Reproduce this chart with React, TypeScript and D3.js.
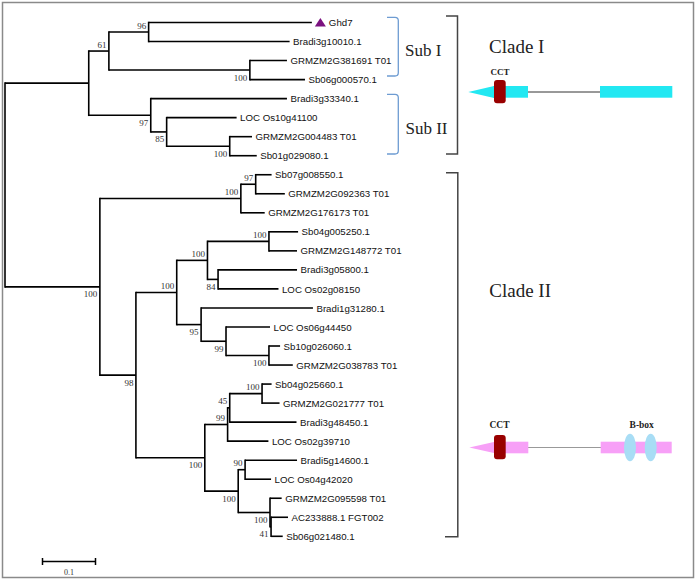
import React from "react";
import * as d3 from "d3";

// ---- Tree data (parallel arrays) ----
const nodeIds = [
  "root",
  "cladeI", "subI", "n96", "Ghd7", "Bradi3g10010.1", "n100a", "GRMZM2G381691 T01", "Sb06g000570.1",
  "subII", "Bradi3g33340.1", "n85", "LOC Os10g41100", "n100b", "GRMZM2G004483 T01", "Sb01g029080.1",
  "cladeII", "n100c", "n97", "Sb07g008550.1", "GRMZM2G092363 T01", "GRMZM2G176173 T01",
  "n98", "n100d", "n100e", "n100f", "Sb04g005250.1", "GRMZM2G148772 T01", "n84", "Bradi3g05800.1", "LOC Os02g08150",
  "n95", "Bradi1g31280.1", "n99a", "LOC Os06g44450", "n100g", "Sb10g026060.1", "GRMZM2G038783 T01",
  "n100h", "n99b", "n45", "n100i", "Sb04g025660.1", "GRMZM2G021777 T01", "Bradi3g48450.1", "LOC Os02g39710",
  "n100j", "n90", "Bradi5g14600.1", "LOC Os04g42020", "n100k", "GRMZM2G095598 T01", "n41", "AC233888.1 FGT002", "Sb06g021480.1",
];
const parentIds = [
  "",
  "root", "cladeI", "subI", "n96", "n96", "subI", "n100a", "n100a",
  "cladeI", "subII", "subII", "n85", "n85", "n100b", "n100b",
  "root", "cladeII", "n100c", "n97", "n97", "n100c",
  "cladeII", "n98", "n100d", "n100e", "n100f", "n100f", "n100e", "n84", "n84",
  "n100d", "n95", "n95", "n99a", "n99a", "n100g", "n100g",
  "n98", "n100h", "n99b", "n45", "n100i", "n100i", "n45", "n99b",
  "n100h", "n100j", "n90", "n90", "n100j", "n100k", "n100k", "n41", "n41",
];
const branchLengths = [
  0,
  0.158, 0.038, 0.075, 0.308, 0.266, 0.266, 0.070, 0.104,
  0.117, 0.257, 0.030, 0.132, 0.119, 0.042, 0.051,
  0.179, 0.266, 0.028, 0.030, 0.055, 0.045,
  0.068, 0.077, 0.058, 0.116, 0.055, 0.053, 0.020, 0.149, 0.114,
  0.046, 0.211, 0.047, 0.083, 0.081, 0.021, 0.045,
  0.130, 0.043, 0.004, 0.061, 0.018, 0.033, 0.126, 0.077,
  0.063, 0.013, 0.098, 0.049, 0.060, 0.022, 0.002, 0.032, 0.022,
];
const bootstraps: (number | null)[] = [
  null,
  null, 61, 96, null, null, 100, null, null,
  97, null, 85, null, 100, null, null,
  100, 100, 97, null, null, null,
  98, 100, 100, 100, null, null, 84, null, null,
  95, null, 99, null, 100, null, null,
  100, 99, 45, 100, null, null, null, null,
  100, 90, null, null, 100, null, 41, null, null,
];
const highlightedGene = "Ghd7";
const scaleBarValue = 0.1;

const subGroups = ["Sub I", "Sub II"];
const cladeNames = ["Clade I", "Clade II"];

const W = 697;
const H = 581;

export default function App() {
  const rows = nodeIds.map((id, i) => ({
    id,
    parent: parentIds[i] || null,
    len: branchLengths[i],
    bs: bootstraps[i],
  }));
  const root = d3
    .stratify<(typeof rows)[number]>()
    .id((d) => d.id)
    .parentId((d) => d.parent)(rows);

  const x = d3.scaleLinear().domain([0, 1]).range([5, 535]);
  const leaves = root.leaves();
  const y = d3.scaleLinear().domain([0, leaves.length - 1]).range([22.5, 536.3]);

  const depth = new Map<string, number>();
  const ypos = new Map<string, number>();
  root.eachBefore((n) => {
    depth.set(n.id!, n.parent ? depth.get(n.parent.id!)! + n.data.len : 0);
  });
  leaves.forEach((l, i) => ypos.set(l.id!, y(i)));
  root.eachAfter((n) => {
    if (n.children) {
      const ys = n.children.map((c) => ypos.get(c.id!)!);
      ypos.set(n.id!, (ys[0] + ys[ys.length - 1]) / 2);
    }
  });
  const X = (n: any) => x(depth.get(n.id)!);
  const Y = (n: any) => ypos.get(n.id)!;

  const lines: JSX.Element[] = [];
  const labels: JSX.Element[] = [];
  root.each((n) => {
    if (n.parent) {
      lines.push(
        <line key={"h" + n.id} x1={X(n.parent)} x2={X(n)} y1={Y(n)} y2={Y(n)} />
      );
    }
    if (n.children) {
      const ys = n.children.map((c) => Y(c));
      lines.push(
        <line key={"v" + n.id} x1={X(n)} x2={X(n)} y1={Math.min(...ys) - 0.8} y2={Math.max(...ys) + 0.8} />
      );
    }
    if (n.data.bs != null && n.parent) {
      const upper = Y(n) < Y(n.parent);
      labels.push(
        <text
          key={"b" + n.id}
          x={X(n) - 2.5}
          y={upper ? Y(n) - 3.5 : Y(n) + 10.5}
          textAnchor="end"
        >
          {n.data.bs}
        </text>
      );
    }
  });

  const leafTexts = leaves.map((l) => {
    const isH = l.id === highlightedGene;
    const lx = X(l);
    const ly = Y(l);
    return (
      <g key={"l" + l.id}>
        {isH && (
          <path
            d={`M${lx + 3},${ly + 4} L${lx + 8.5},${ly - 4.5} L${lx + 14},${ly + 4} Z`}
            fill="#7B1280"
          />
        )}
        <text x={lx + (isH ? 17 : 3.5)} y={ly + 3.6}>
          {l.id}
        </text>
      </g>
    );
  });

  const sb0 = x(0);
  const sbLen = x(scaleBarValue) - x(0);
  const sbX = 42.5;

  const serif = "'Liberation Serif', 'Times New Roman', serif";

  return (
    <svg
      width={W}
      height={H}
      style={{ position: "absolute", left: 0, top: 0, background: "#fff" }}
    >
      <rect x={2.5} y={2.5} width={691} height={575} fill="#fff" stroke="#8a8a8a" strokeWidth={1.5} />
      <g stroke="#000" strokeWidth={1.6} strokeLinecap="butt">
        {lines}
      </g>
      <g fontFamily={serif} fontSize={9} fill="#333">
        {labels}
      </g>
      <g fontFamily="'Liberation Sans', Arial, sans-serif" fontSize={9.7} fill="#111">
        {leafTexts}
      </g>

      {/* scale bar */}
      <g stroke="#000" strokeWidth={1.5}>
        <line x1={sbX} x2={sbX + sbLen} y1={561.5} y2={561.5} />
        <line x1={sbX} x2={sbX} y1={558} y2={565} />
        <line x1={sbX + sbLen} x2={sbX + sbLen} y1={558} y2={565} />
      </g>
      <text x={sbX + sbLen / 2} y={575} textAnchor="middle" fontFamily={serif} fontSize={8} fill="#333">
        {scaleBarValue}
      </text>
      {sb0 < 0 ? null : null}

      {/* sub-group brackets */}
      <g fill="none" stroke="#6E9CD2" strokeWidth={1.3}>
        <path d="M387,17.3 L395,17.3 Q398.3,17.3 398.3,20.5 L398.3,72.8 Q398.3,76 395,76 L387,76" />
        <path d="M387,94.3 L395,94.3 Q398.3,94.3 398.3,97.5 L398.3,150.8 Q398.3,154 395,154 L387,154" />
      </g>
      <g fontFamily={serif} fontSize={17} fill="#222">
        <text x={405} y={56}>{subGroups[0]}</text>
        <text x={405.5} y={134}>{subGroups[1]}</text>
      </g>

      {/* clade brackets */}
      <g fill="none" stroke="#444" strokeWidth={1.5}>
        <path d="M446,16 L457.5,16 L457.5,154 L446,154" />
        <path d="M446,172.7 L457.8,172.7 L457.8,536.7 L445,536.7" />
      </g>
      <g fontFamily={serif} fontSize={19} fill="#222">
        <text x={489} y={52.5}>{cladeNames[0]}</text>
        <text x={489.3} y={296.7}>{cladeNames[1]}</text>
      </g>

      {/* Clade I gene structure */}
      <g>
        <line x1={528} x2={600} y1={92} y2={92} stroke="#333" strokeWidth={1} />
        <path d="M468.3,92 L494,86 L494,98 Z" fill="#22E8F2" />
        <rect x={493} y={86} width={35} height={11.7} fill="#22E8F2" />
        <rect x={600} y={86} width={72.3} height={11.7} fill="#22E8F2" />
        <rect x={494} y={80} width={11.7} height={23.3} rx={3} fill="#990000" />
        <text x={500} y={75} textAnchor="middle" fontFamily={serif} fontWeight="bold" fontSize={9} fill="#222">
          CCT
        </text>
      </g>

      {/* Clade II gene structure */}
      <g>
        <line x1={528} x2={601} y1={447.5} y2={447.5} stroke="#999" strokeWidth={1} />
        <path d="M469.3,447.5 L495,441.7 L495,453.3 Z" fill="#F7A0F7" />
        <rect x={494} y={441.7} width={34.3} height={11.6} fill="#F7A0F7" />
        <rect x={600.7} y={441.7} width={71} height={11.6} fill="#F7A0F7" />
        <ellipse cx={630} cy={447.5} rx={6} ry={13.8} fill="#A8DDF5" />
        <ellipse cx={650.7} cy={447.5} rx={6} ry={13.8} fill="#A8DDF5" />
        <rect x={494} y={435} width={11.7} height={24.3} rx={3} fill="#990000" />
        <text x={499.5} y={428.3} textAnchor="middle" fontFamily={serif} fontWeight="bold" fontSize={9.5} fill="#222">
          CCT
        </text>
        <text x={641.7} y={428.3} textAnchor="middle" fontFamily={serif} fontWeight="bold" fontSize={9.5} fill="#222">
          B-box
        </text>
      </g>
    </svg>
  );
}
